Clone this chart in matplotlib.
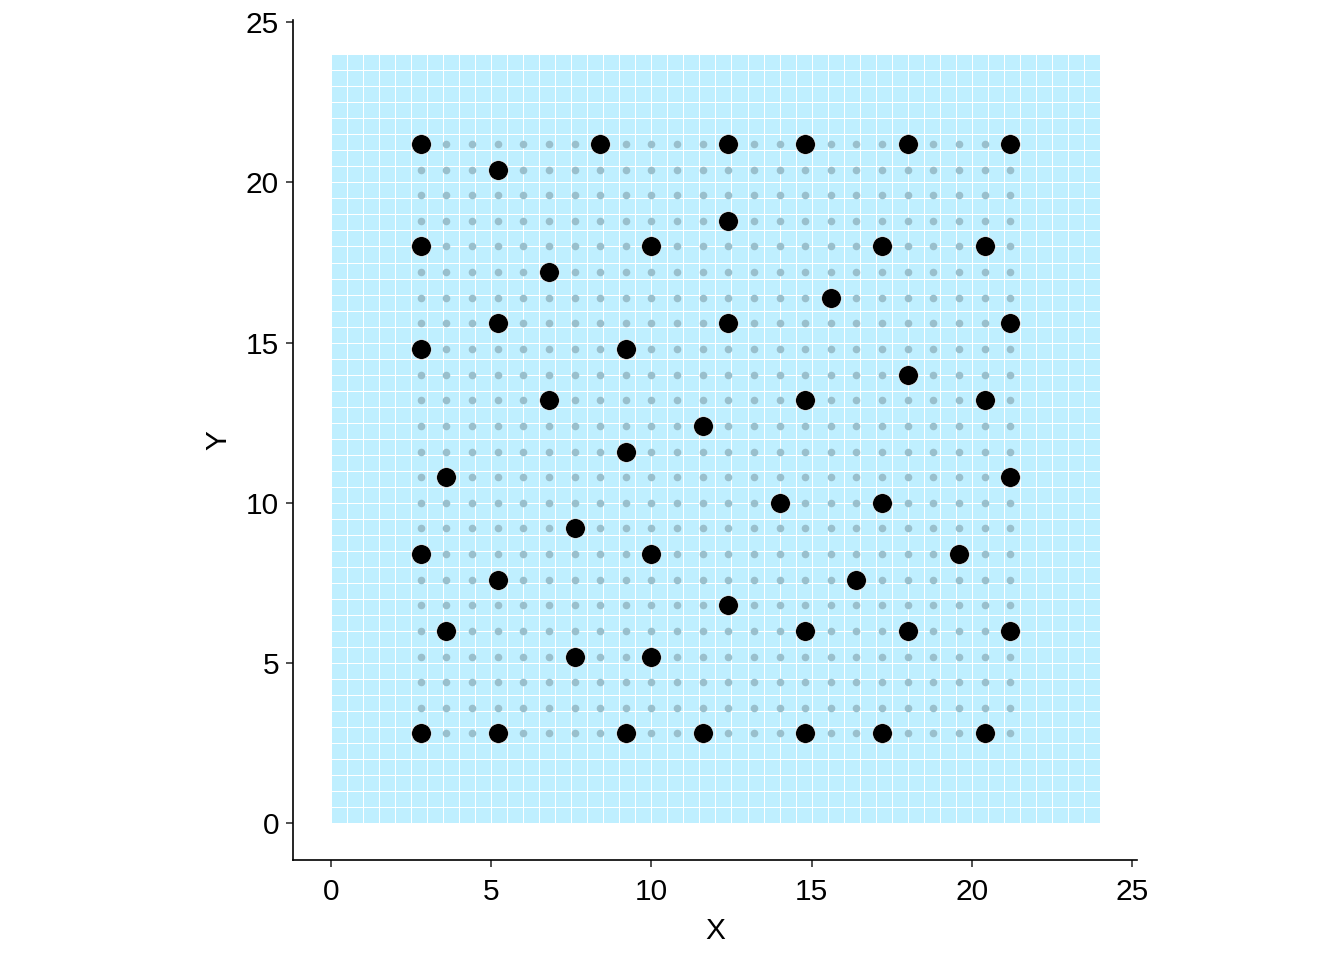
import numpy as np
import matplotlib
matplotlib.use("Agg")
import matplotlib.pyplot as plt

plt.rcParams['font.family'] = ['Liberation Sans', 'DejaVu Sans']

# Background tile grid (0.5-unit tiles covering 0..24)
tile_size = 0.5
tile_extent = 24.0
tile_color = '#BFEFFF'

# Candidate grid points (gray)
grid_start = 2.8
grid_stop = 21.2
grid_step = 0.8

# Selected points (black)
sel_x = [2.8, 8.4, 12.4, 14.8, 18.0, 21.2,
         5.2,
         12.4,
         2.8, 10.0, 17.2, 20.4,
         6.8,
         15.6,
         5.2, 12.4, 21.2,
         2.8, 9.2,
         18.0,
         6.8, 14.8, 20.4,
         11.6,
         9.2,
         3.6, 21.2,
         14.0, 17.2,
         7.6,
         2.8, 10.0, 19.6,
         5.2, 16.4,
         12.4,
         3.6, 14.8, 18.0, 21.2,
         7.6, 10.0,
         2.8, 5.2, 9.2, 11.6, 14.8, 17.2, 20.4]
sel_y = [21.2, 21.2, 21.2, 21.2, 21.2, 21.2,
         20.4,
         18.8,
         18.0, 18.0, 18.0, 18.0,
         17.2,
         16.4,
         15.6, 15.6, 15.6,
         14.8, 14.8,
         14.0,
         13.2, 13.2, 13.2,
         12.4,
         11.6,
         10.8, 10.8,
         10.0, 10.0,
         9.2,
         8.4, 8.4, 8.4,
         7.6, 7.6,
         6.8,
         6.0, 6.0, 6.0, 6.0,
         5.2, 5.2,
         2.8, 2.8, 2.8, 2.8, 2.8, 2.8, 2.8]

x_ticks = [0, 5, 10, 15, 20, 25]
y_ticks = [0, 5, 10, 15, 20, 25]

fig = plt.figure(figsize=(13.44, 9.6), dpi=100)
ax = fig.add_axes([293/1344, 100/960, (1137-293)/1344, (860-20)/960])

# tiles
edges = np.arange(0, tile_extent + tile_size/2, tile_size)
Z = np.ones((len(edges)-1, len(edges)-1))
ax.pcolormesh(edges, edges, Z, cmap=matplotlib.colors.ListedColormap([tile_color]),
              edgecolors='white', linewidth=0.5, zorder=1)

# gray grid points
g = np.arange(grid_start, grid_stop + grid_step/2, grid_step)
GX, GY = np.meshgrid(g, g)
ax.scatter(GX.ravel(), GY.ravel(), s=30, color='#99BFCC', linewidths=0, zorder=2)

# selected points
ax.scatter(sel_x, sel_y, s=200, color='black', edgecolors='white', linewidths=0.4, zorder=3)

ax.set_xlim(-1.19, 25.16)
ax.set_ylim(-1.15, 25.07)
ax.set_aspect('auto')

ax.set_xticks(x_ticks)
ax.set_yticks(y_ticks)
ax.tick_params(axis='both', length=5, width=1.2, color='#333333', labelsize=21.5,
               labelcolor='black')
ax.tick_params(axis='x', pad=8)
ax.tick_params(axis='y', pad=5)
for s in ['top', 'right']:
    ax.spines[s].set_visible(False)
for s in ['left', 'bottom']:
    ax.spines[s].set_linewidth(1.2)
    ax.spines[s].set_color('black')

ax.set_xlabel('X', fontsize=21.5, labelpad=8)
ax.set_ylabel('Y', fontsize=21.5, labelpad=10)

fig.savefig('out.png', dpi=100)
